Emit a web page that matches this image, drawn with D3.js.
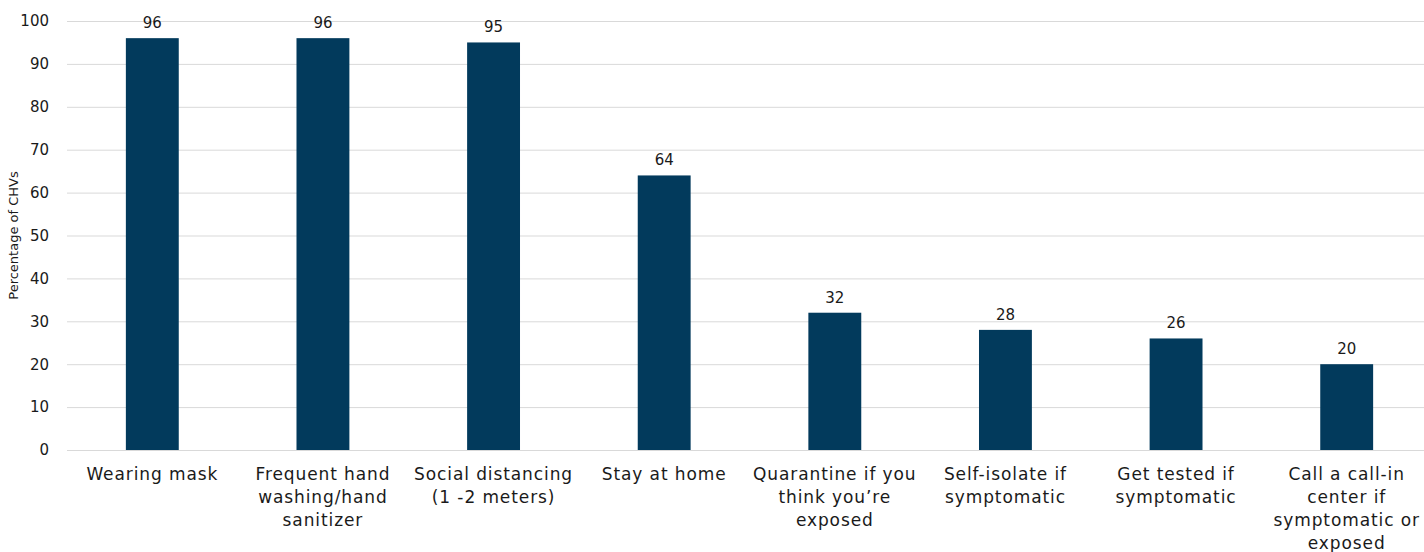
<!DOCTYPE html>
<html>
<head>
<meta charset="utf-8">
<script src="https://cdn.jsdelivr.net/npm/d3@7"></script>
<style>
  body { margin: 0; background: #fff; overflow: hidden; }
  svg { display: block; font-family: "DejaVu Sans", sans-serif; }
</style>
</head>
<body>
<div id="chart"></div>
<script>
let categories = [
    ["Wearing mask"],
    ["Frequent hand", "washing/hand", "sanitizer"],
    ["Social distancing", "(1 -2 meters)"],
    ["Stay at home"],
    ["Quarantine if you", "think you\u2019re", "exposed"],
    ["Self-isolate if", "symptomatic"],
    ["Get tested if", "symptomatic"],
    ["Call a call-in", "center if", "symptomatic or", "exposed"]
];
let values = [96, 96, 95, 64, 32, 28, 26, 20];
let yTicks = [0, 10, 20, 30, 40, 50, 60, 70, 80, 90, 100];

let width = 1424;
let height = 552;
let margin = ({ top: 21, bottom: 102, left: 67, right: -8 });

let data = categories.map((c, i) => ({ key: i, lines: c, value: values[i] }));

let xScale = d3
    .scaleBand()
    .domain(data.map(d => d.key))
    .range([margin.left, width - margin.right])
    .paddingInner(0.69)
    .paddingOuter(0.345);

let yScale = d3
    .scaleLinear()
    .domain([0, 100])
    .range([height - margin.bottom, margin.top]);

let svg = d3.select("#chart")
    .append("svg")
    .attr("width", width)
    .attr("height", height);

// gridlines + y labels
svg.append("g")
    .attr("transform", `translate(${margin.left},0)`)
    .call(d3.axisLeft(yScale).tickValues(yTicks).tickSize(-(width - margin.left - margin.right)).tickPadding(18))
    .call(g => g.select(".domain").remove())
    .call(g => g.selectAll(".tick line").attr("stroke", "#d9d9d9").attr("stroke-width", 1))
    .call(g => g.selectAll(".tick text")
        .attr("font-size", 15)
        .attr("fill", "#1a1a1a")
        .attr("font-family", "\"DejaVu Sans\", sans-serif"));

svg.append("text")
    .attr("transform", `translate(18,${(margin.top + height - margin.bottom) / 2}) rotate(-90)`)
    .attr("text-anchor", "middle")
    .attr("font-size", 13)
    .attr("fill", "#1a1a1a")
    .text("Percentage of CHVs");

svg.append("g")
    .attr("fill", "#023a5c")
    .selectAll("rect")
    .data(data)
    .join("rect")
    .attr("x", d => xScale(d.key))
    .attr("y", d => yScale(d.value))
    .attr("width", xScale.bandwidth())
    .attr("height", d => yScale(0) - yScale(d.value));

svg.append("g")
    .attr("font-size", 15)
    .attr("fill", "#1a1a1a")
    .attr("text-anchor", "middle")
    .selectAll("text")
    .data(data)
    .join("text")
    .attr("x", d => xScale(d.key) + xScale.bandwidth() / 2)
    .attr("y", d => yScale(d.value) - 10)
    .text(d => d.value);

// category labels
let labels = svg.append("g")
    .attr("font-size", 17)
    .attr("letter-spacing", 0.9)
    .attr("fill", "#1a1a1a")
    .attr("text-anchor", "middle")
    .selectAll("text")
    .data(data)
    .join("text")
    .attr("x", d => xScale(d.key) + xScale.bandwidth() / 2)
    .attr("y", yScale(0) + 30);

labels.selectAll("tspan")
    .data(d => d.lines.map(l => ({ l, x: xScale(d.key) + xScale.bandwidth() / 2 })))
    .join("tspan")
    .attr("x", d => d.x)
    .attr("dy", (d, i) => i === 0 ? 0 : 23)
    .text(d => d.l);
</script>
</body>
</html>
